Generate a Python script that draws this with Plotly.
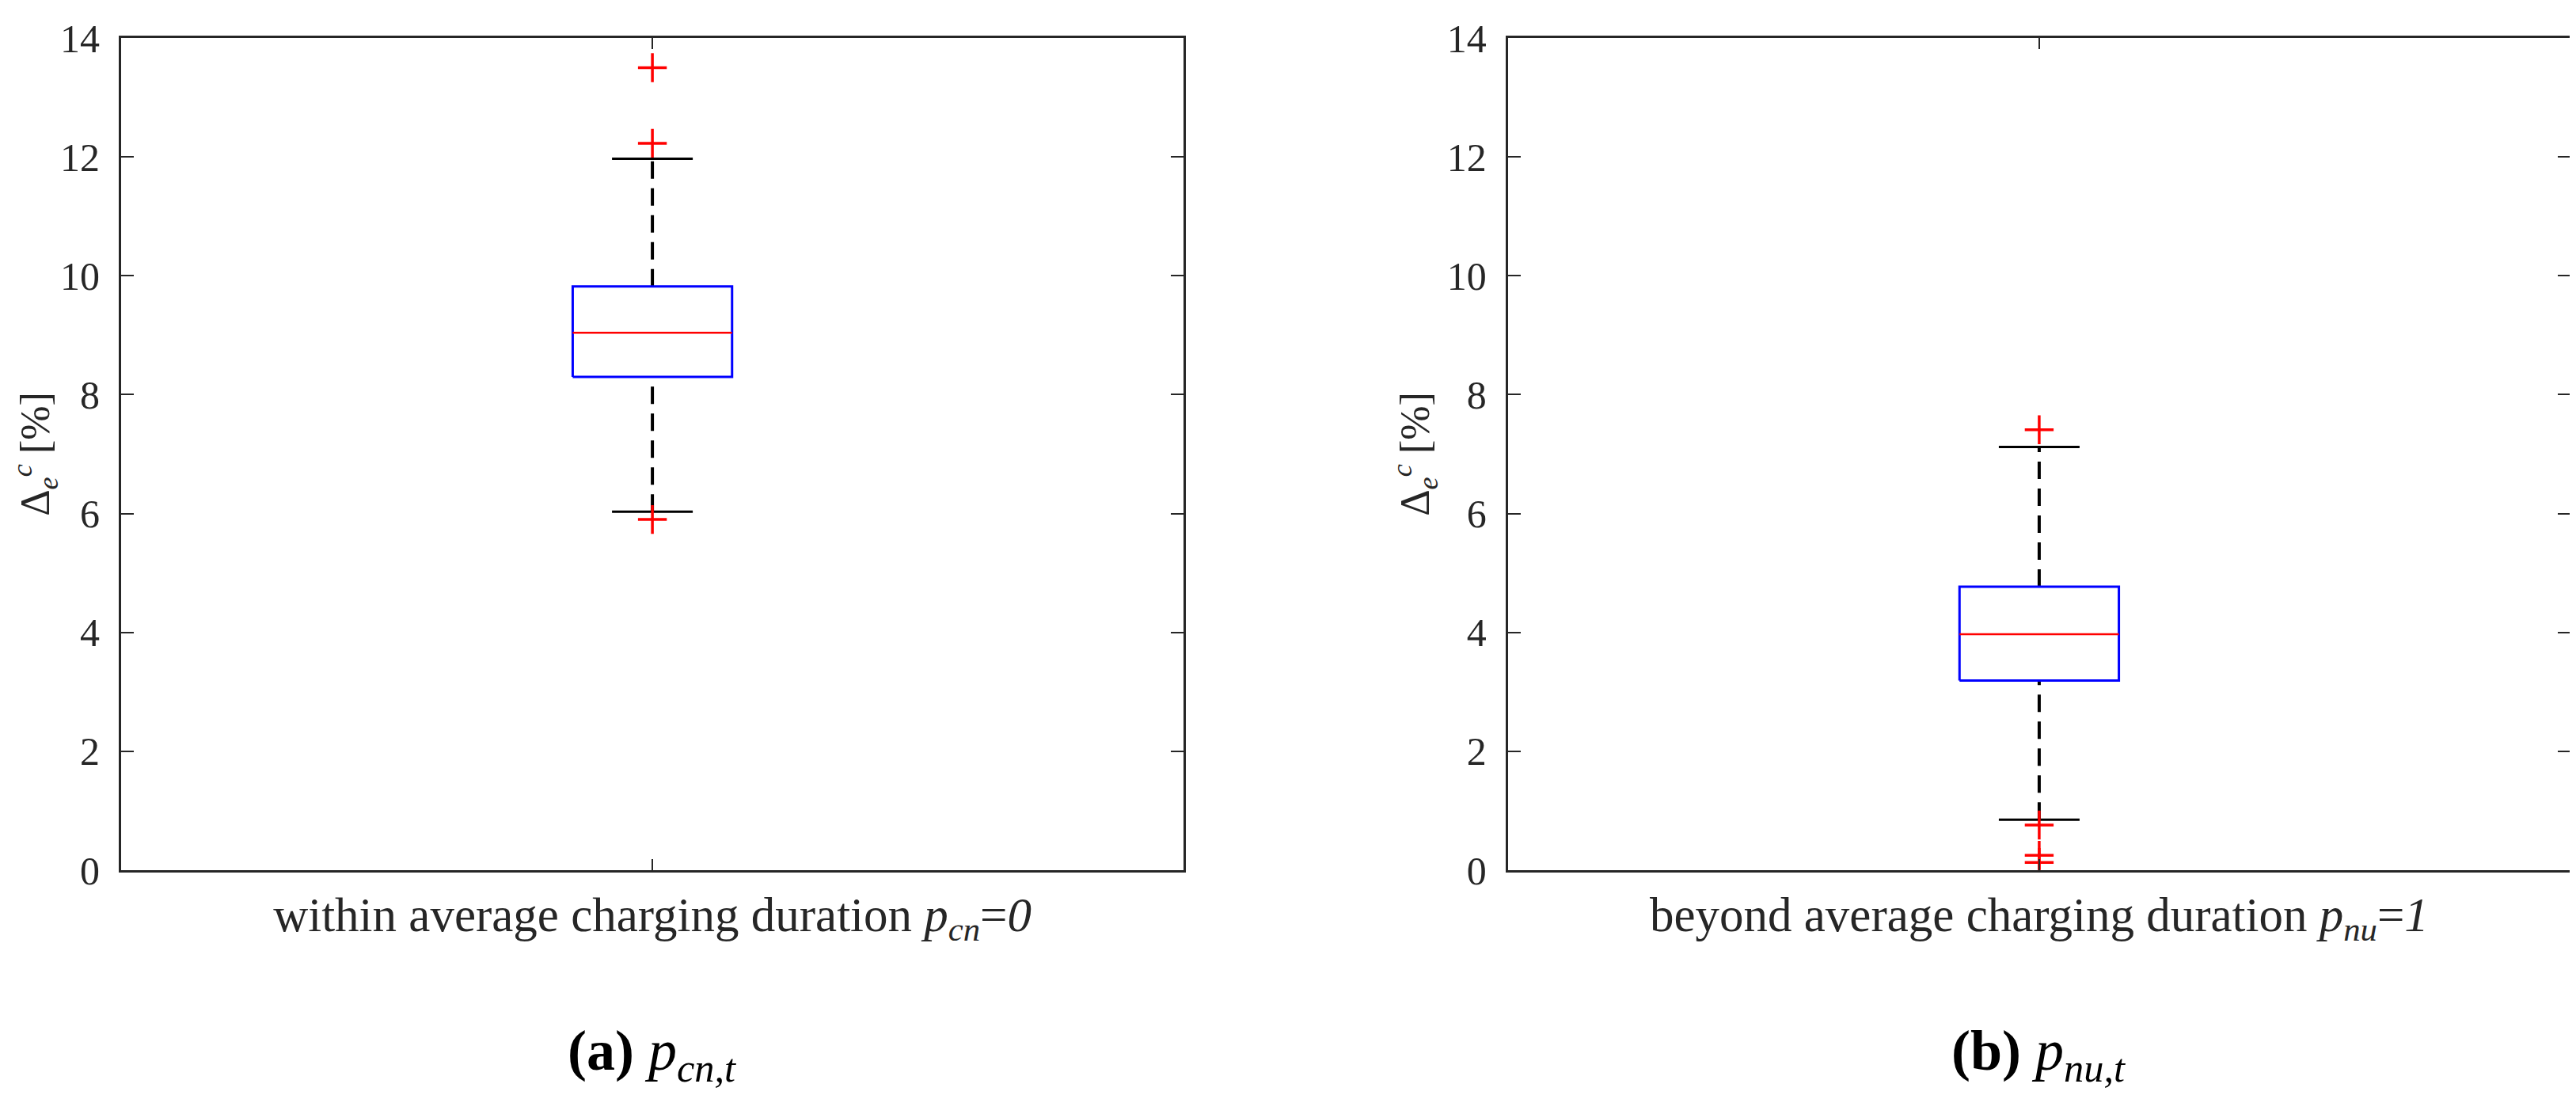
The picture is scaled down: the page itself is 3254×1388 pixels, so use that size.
"""Boxplots of the charging deviation Δ_e^c for the two charging-duration groups."""

import plotly.graph_objects as go

# Box statistics, one entry per panel
GROUP_LABELS = [
    "within average charging duration <i>p</i><sub><i>cn</i></sub>=<i>0</i>",
    "beyond average charging duration <i>p</i><sub><i>nu</i></sub>=<i>1</i>",
]
CAPTIONS = [
    "<b>(a)</b> <i>p</i><sub><i>cn,t</i></sub>",
    "<b>(b)</b> <i>p</i><sub><i>nu,t</i></sub>",
]
Q1 = [8.30, 3.19]
MEDIAN = [9.04, 3.97]
Q3 = [9.82, 4.77]
WHISKER_LOW = [6.03, 0.85]
WHISKER_HIGH = [11.97, 7.12]
OUTLIERS = [
    [13.50, 12.23, 5.90],
    [7.41, 0.76, 0.25, 0.13],
]
Y_TICKS = [0, 2, 4, 6, 8, 10, 12, 14]

AXIS_COLOR = "#262626"
FONT = "Liberation Serif"
CENTER = 1
BOX_HALF = 0.075
CAP_HALF = 0.038
DOMAINS = [[0.0, 0.4338], [0.5662, 1.0]]

fig = go.Figure()

for i in range(len(GROUP_LABELS)):
    xa = "x" if i == 0 else f"x{i + 1}"
    ya = "y" if i == 0 else f"y{i + 1}"
    common = dict(xaxis=xa, yaxis=ya, showlegend=False, hoverinfo="skip")
    # dashed whiskers
    for y0, y1 in [(Q3[i], WHISKER_HIGH[i]), (WHISKER_LOW[i], Q1[i])]:
        fig.add_trace(go.Scatter(
            x=[CENTER, CENTER], y=[y0, y1], mode="lines",
            line=dict(color="black", width=4, dash="22px,12px"), **common,
        ))
    # whisker caps
    for yw in [WHISKER_HIGH[i], WHISKER_LOW[i]]:
        fig.add_trace(go.Scatter(
            x=[CENTER - CAP_HALF, CENTER + CAP_HALF], y=[yw, yw], mode="lines",
            line=dict(color="black", width=3), **common,
        ))
    # box
    fig.add_trace(go.Scatter(
        x=[CENTER - BOX_HALF, CENTER + BOX_HALF, CENTER + BOX_HALF, CENTER - BOX_HALF, CENTER - BOX_HALF],
        y=[Q1[i], Q1[i], Q3[i], Q3[i], Q1[i]], mode="lines",
        line=dict(color="#0000ff", width=3), **common,
    ))
    # median
    fig.add_trace(go.Scatter(
        x=[CENTER - BOX_HALF, CENTER + BOX_HALF], y=[MEDIAN[i], MEDIAN[i]], mode="lines",
        line=dict(color="#ff0000", width=2.5), **common,
    ))
    # outliers
    fig.add_trace(go.Scatter(
        x=[CENTER] * len(OUTLIERS[i]), y=OUTLIERS[i], mode="markers",
        marker=dict(symbol="cross-thin", size=26, line=dict(color="#ff0000", width=3.5)),
        **common,
    ))

    axis_common = dict(
        showline=True, linewidth=3, linecolor=AXIS_COLOR, mirror="ticks",
        ticks="inside", tickcolor=AXIS_COLOR, tickwidth=2,
        showgrid=False, zeroline=False,
    )
    fig.update_layout({
        ("xaxis" if i == 0 else f"xaxis{i + 1}"): dict(
            domain=DOMAINS[i], anchor=ya, range=[0.5, 1.5],
            tickvals=[CENTER], ticktext=[""], ticklen=14,
            title=dict(text=GROUP_LABELS[i], standoff=30,
                       font=dict(family=FONT, size=61, color=AXIS_COLOR)),
            **axis_common,
        ),
        ("yaxis" if i == 0 else f"yaxis{i + 1}"): dict(
            anchor=xa, range=[0, 14], tickvals=Y_TICKS, ticklen=16,
            ticklabelstandoff=14,
            tickfont=dict(family=FONT, size=50, color=AXIS_COLOR),
            title=dict(text="Δ<sub><i>e</i></sub><sup><i>c</i></sup> [%]", standoff=6,
                       font=dict(family=FONT, size=52, color=AXIS_COLOR)),
            **axis_common,
        ),
    })
    fig.add_annotation(
        x=sum(DOMAINS[i]) / 2, y=-0.222, xref="paper", yref="paper",
        text=CAPTIONS[i], showarrow=False, xanchor="center", yanchor="middle",
        font=dict(family=FONT, size=72, color="black"),
    )

fig.update_layout(
    width=3254, height=1388,
    margin=dict(l=145, r=13, t=32, b=297),
    paper_bgcolor="white", plot_bgcolor="white",
)

fig.write_html("out.html")
